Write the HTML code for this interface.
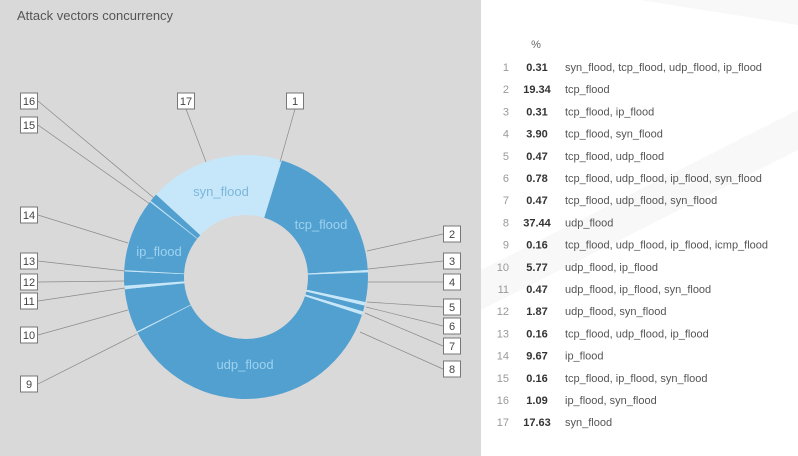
<!DOCTYPE html>
<html><head><meta charset="utf-8"><style>
html,body{margin:0;padding:0;width:798px;height:456px;overflow:hidden;background:#fff}
svg{display:block;font-family:"Liberation Sans",sans-serif}
</style></head><body>
<svg id="s" width="798" height="456" viewBox="0 0 798 456"></svg>
<script>
const vals=[0.31,19.34,0.31,3.90,0.47,0.78,0.47,37.44,0.16,5.77,0.47,1.87,0.16,9.67,0.16,1.09,17.63];
const names=["syn_flood, tcp_flood, udp_flood, ip_flood","tcp_flood","tcp_flood, ip_flood","tcp_flood, syn_flood","tcp_flood, udp_flood","tcp_flood, udp_flood, ip_flood, syn_flood","tcp_flood, udp_flood, syn_flood","udp_flood","tcp_flood, udp_flood, ip_flood, icmp_flood","udp_flood, ip_flood","udp_flood, ip_flood, syn_flood","udp_flood, syn_flood","tcp_flood, udp_flood, ip_flood","ip_flood","tcp_flood, ip_flood, syn_flood","ip_flood, syn_flood","syn_flood"];
const boxes={16:[29,101],15:[29,125],14:[29,215],13:[29,261],12:[29,282],11:[29,301],10:[29,335],9:[29,384],17:[186,101],1:[295,101],2:[452,234],3:[452,261],4:[452,282],5:[452,307],6:[452,326],7:[452,346],8:[452,369]};
const ends={1:[280,162],2:[367,251],3:[368,269],4:[368,282],5:[367,302],6:[366,307],7:[365,313],8:[360,332],9:[137,334],10:[128,310],11:[125,288],12:[125,281],13:[125,271],14:[128,243],15:[150,204],16:[154,198],17:[206,162]};
const cx=246,cy=277,R=122,r=62;
let h='';
h+='<rect x="0" y="0" width="481" height="456" fill="#d9d9d9"/>';
h+='<path d="M640 0 L798 0 L798 25 Z M481 270 L798 110 L798 150 L481 310Z" fill="#f8f8f8"/>';
h+='<text x="17" y="20" font-size="13" fill="#555">Attack vectors concurrency</text>';
const tot=vals.reduce((a,b)=>a+b,0);
let a=16;
function pt(ang,rad){const t=(ang-90)*Math.PI/180;return [cx+rad*Math.cos(t),cy+rad*Math.sin(t)];}
let lines='';
vals.forEach((v,i)=>{
 const sw=v/tot*360,a2=a+sw;
 const p1=pt(a,R),p2=pt(a2,R),p3=pt(a2,r),p4=pt(a,r);
 const lg=sw>180?1:0;
 const col=i%2==0?'#c6e7f9':'#52a0d0';
 h+=`<path d="M${p1} A${R} ${R} 0 ${lg} 1 ${p2} L${p3} A${r} ${r} 0 ${lg} 0 ${p4}Z" fill="${col}"/>`;
 const e=ends[i+1],b=boxes[i+1];
 let bx=b[0],by=b[1];
 if(bx<100)bx+=9;else if(bx>400)bx-=9;else by+=8;
 lines+=`<line x1="${e[0]}" y1="${e[1]}" x2="${bx}" y2="${by}" stroke="#8a8a8a" stroke-width="0.7"/>`;
 a=a2;
});
h+=lines;
for(const k in boxes){const [x,y]=boxes[k];h+=`<rect x="${x-8.5}" y="${y-8}" width="17" height="16" fill="#fff" stroke="#777" stroke-width="1"/><text x="${x}" y="${y+4}" font-size="11" fill="#444" text-anchor="middle">${k}</text>`;}
h+='<text x="221" y="196" font-size="13" fill="#7cb6dc" text-anchor="middle">syn_flood</text>';
h+='<text x="321" y="229" font-size="13" fill="#9dd2f0" text-anchor="middle">tcp_flood</text>';
h+='<text x="159" y="256" font-size="13" fill="#9dd2f0" text-anchor="middle">ip_flood</text>';
h+='<text x="245" y="369" font-size="13" fill="#9dd2f0" text-anchor="middle">udp_flood</text>';
h+='<text x="536" y="48" font-size="11" fill="#666" text-anchor="middle">%</text>';
vals.forEach((v,i)=>{const y=71+i*22.2;
 h+=`<text x="509" y="${y}" font-size="11" fill="#999" text-anchor="end">${i+1}</text>`;
 h+=`<text x="537" y="${y}" font-size="11" font-weight="bold" fill="#333" text-anchor="middle">${v.toFixed(2)}</text>`;
 h+=`<text x="565" y="${y}" font-size="11" fill="#555">${names[i]}</text>`;});
document.getElementById('s').innerHTML=h;
</script>
</body></html>
